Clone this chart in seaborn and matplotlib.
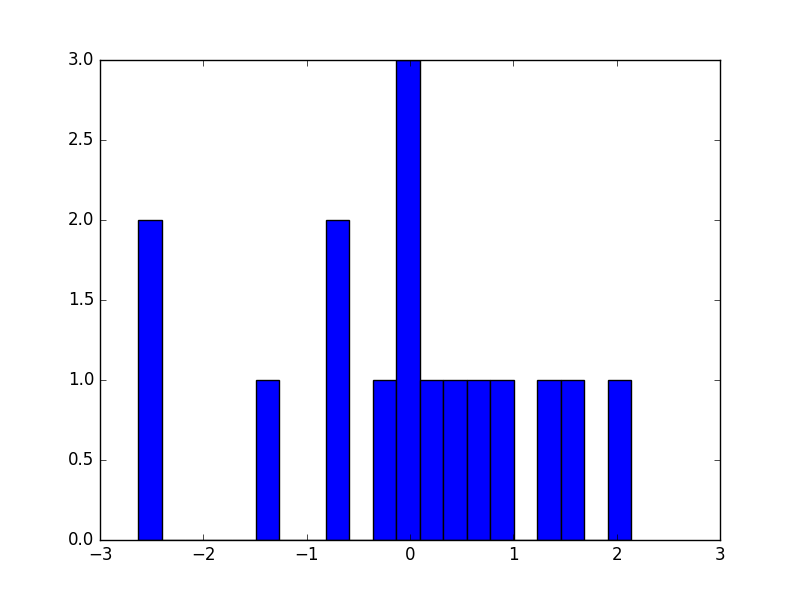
import matplotlib
matplotlib.use("Agg")
import matplotlib.pyplot as plt
import numpy as np
import pandas as pd
import seaborn as sns

# sample values (21 equal bins between min and max)
values = [-2.63, -2.5, -1.38, -0.75, -0.68, -0.25, -0.05, 0.0, 0.05,
          0.2, 0.45, 0.65, 0.9, 1.35, 1.55, 2.14]
n_bins = 21
x_ticks = [-3, -2, -1, 0, 1, 2, 3]
y_ticks = [0.0, 0.5, 1.0, 1.5, 2.0, 2.5, 3.0]

plt.style.use("classic")
df = pd.DataFrame({"value": values})

fig = plt.figure(figsize=(8, 6), dpi=100, facecolor="white")
ax = fig.add_subplot(111)
sns.histplot(data=df, x="value", bins=n_bins, color="blue", edgecolor="black",
             linewidth=1.0, alpha=1.0, ax=ax)

ax.set_xlim(-3, 3)
ax.set_ylim(0, 3)
ax.set_xticks(x_ticks)
ax.set_yticks(y_ticks)
ax.set_xticklabels([f"\u2212{abs(t)}" if t < 0 else str(t) for t in x_ticks])
ax.set_xlabel("")
ax.set_ylabel("")
ax.grid(False)

fig.savefig("out.png", dpi=100, facecolor="white")
